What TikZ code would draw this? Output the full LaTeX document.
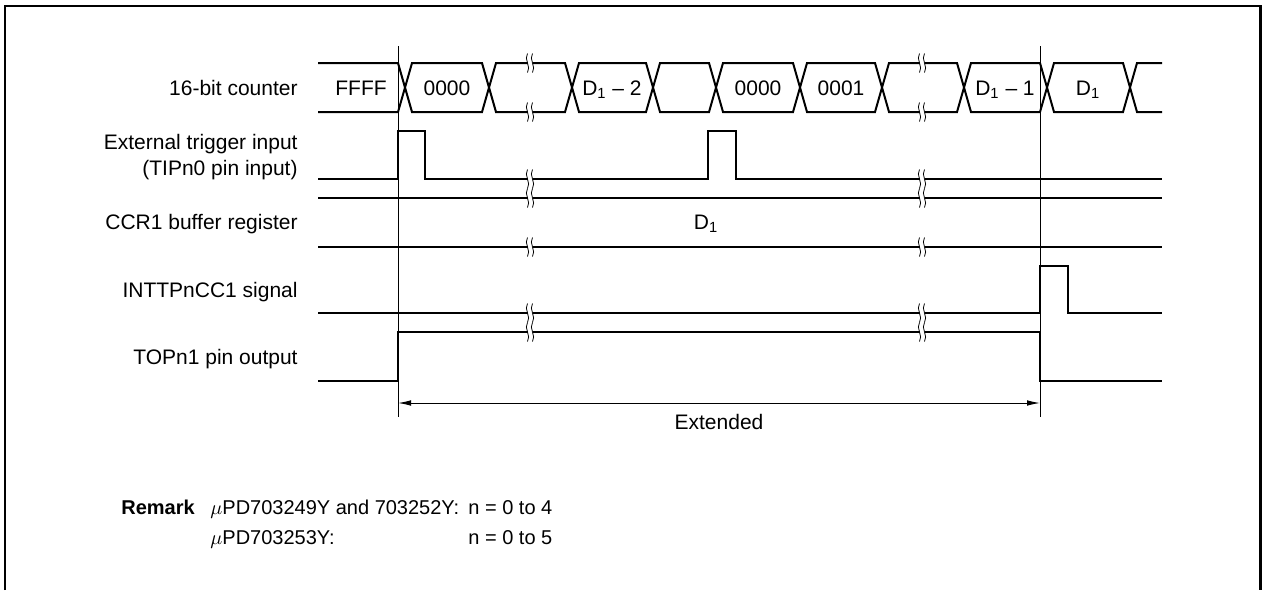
\documentclass[tikz,border=0pt]{standalone}
\usepackage{fontspec}
\setmainfont{Liberation Sans}
\usetikzlibrary{arrows.meta}
\newcommand\mybrk[2]{%
  \fill[white] (#1-2.5,#2-6) rectangle (#1+2.5,#2+6);
  \draw[brkline] (#1-2.5,#2-9.5) .. controls (#1-6.5,#2-4) and (#1+1.5,#2+4) .. (#1-2.5,#2+9.5);
  \draw[brkline] (#1+2.5,#2-9.5) .. controls (#1-1.5,#2-4) and (#1+6.5,#2+4) .. (#1+2.5,#2+9.5);
}
\begin{document}
\begin{tikzpicture}[x=0.5pt,y=-0.5pt,
  font=\fontsize{10.5}{13.5}\selectfont,
  sig/.style={line width=1pt, line join=miter, line cap=butt},
  frame/.style={line width=1.4pt},
  guide/.style={line width=0.5pt},
  brkline/.style={line width=0.4pt},
  lbl/.style={anchor=base east, inner sep=0pt},
  val/.style={anchor=base, inner sep=0pt},
  rem/.style={anchor=base west, inner sep=0pt, font=\fontsize{10}{12}\selectfont},
  dim/.style={line width=0.5pt, {Latex[length=6.5pt,width=2.8pt]}-{Latex[length=6.5pt,width=2.8pt]}}]
\useasboundingbox (0,0) rectangle (1264,590);

% frame
\draw[frame] (5,590) -- (5,6) -- (1260.5,6) -- (1260.5,590);

% guide lines
\coordinate (g1t) at (398,46); \coordinate (g1b) at (398,417);
\coordinate (g2t) at (1040,46); \coordinate (g2b) at (1040,417);
\draw[guide] (g1t) -- (g1b);
\draw[guide] (g2t) -- (g2b);

% 16-bit counter bus (top 63, bottom 112, mid 87.5)
\draw[sig] (318,63) -- (398,63) -- (405,87.5) -- (398,112) -- (318,112);
\foreach \a/\b in {412/482, 496/565, 579/646, 660/709, 723/793, 807/875, 889/957, 971/1040, 1054/1123}{
  \draw[sig] (\a-7,87.5) -- (\a,63) -- (\b,63) -- (\b+7,87.5) -- (\b,112) -- (\a,112) -- cycle;
}
\draw[sig] (1162,63) -- (1137,63) -- (1130,87.5) -- (1137,112) -- (1162,112);

\node[val] (vffff) at (361,95) {FFFF};
\node[val] (v0a) at (447,95) {0000};
\node[val] (vd2) at (612,95) {D\textsubscript{1} – 2};
\node[val] (v0b) at (758,95) {0000};
\node[val] (v1b) at (841,95) {0001};
\node[val] (vd1m) at (1005,95) {D\textsubscript{1} – 1};
\node[val] (vd1) at (1088,95) {D\textsubscript{1}};

% external trigger input
\draw[sig] (318,179) -- (398,179) -- (398,131) -- (425,131) -- (425,179)
  -- (708,179) -- (708,131) -- (736,131) -- (736,179) -- (1162,179);

% CCR1 buffer register
\draw[sig] (318,198) -- (1162,198);
\draw[sig] (318,247) -- (1162,247);
\node[val] (vccr) at (706,229.5) {D\textsubscript{1}};

% INTTPnCC1 signal
\draw[sig] (318,313) -- (1040,313) -- (1040,266) -- (1068,266) -- (1068,313) -- (1162,313);

% TOPn1 pin output
\draw[sig] (318,381) -- (398,381) -- (398,332) -- (1040,332) -- (1040,381) -- (1162,381);

% break marks
\foreach \x in {530, 922}{
  \foreach \y in {63, 112, 179, 198, 247, 313, 332}{
    \mybrk{\x}{\y}
  }
}

% extended arrow
\coordinate (ea) at (398,403);
\coordinate (eb) at (1040,403);
\draw[dim] (ea) -- (eb);
\node[val] (ext) at (719,429.5) {Extended};

% signal labels
\node[lbl] (l1) at (298,95) {16-bit counter};
\node[lbl] (l2) at (298,149) {External trigger input};
\node[lbl] (l2b) at (298,175) {(TIPn0 pin input)};
\node[lbl] (l3) at (298,229.5) {CCR1 buffer register};
\node[lbl] (l4) at (298,297.5) {INTTPnCC1 signal};
\node[lbl] (l5) at (298,364.5) {TOPn1 pin output};

% remark
\node[rem] (rm) at (121,514.5) {\bfseries Remark};
\node[rem] (r1) at (210,514.5) {$\mu$PD703249Y and 703252Y:};
\node[rem] (r1n) at (468,514.5) {n = 0 to 4};
\node[rem] (r2) at (210,544.5) {$\mu$PD703253Y:};
\node[rem] (r2n) at (468,544.5) {n = 0 to 5};
\end{tikzpicture}
\end{document}
